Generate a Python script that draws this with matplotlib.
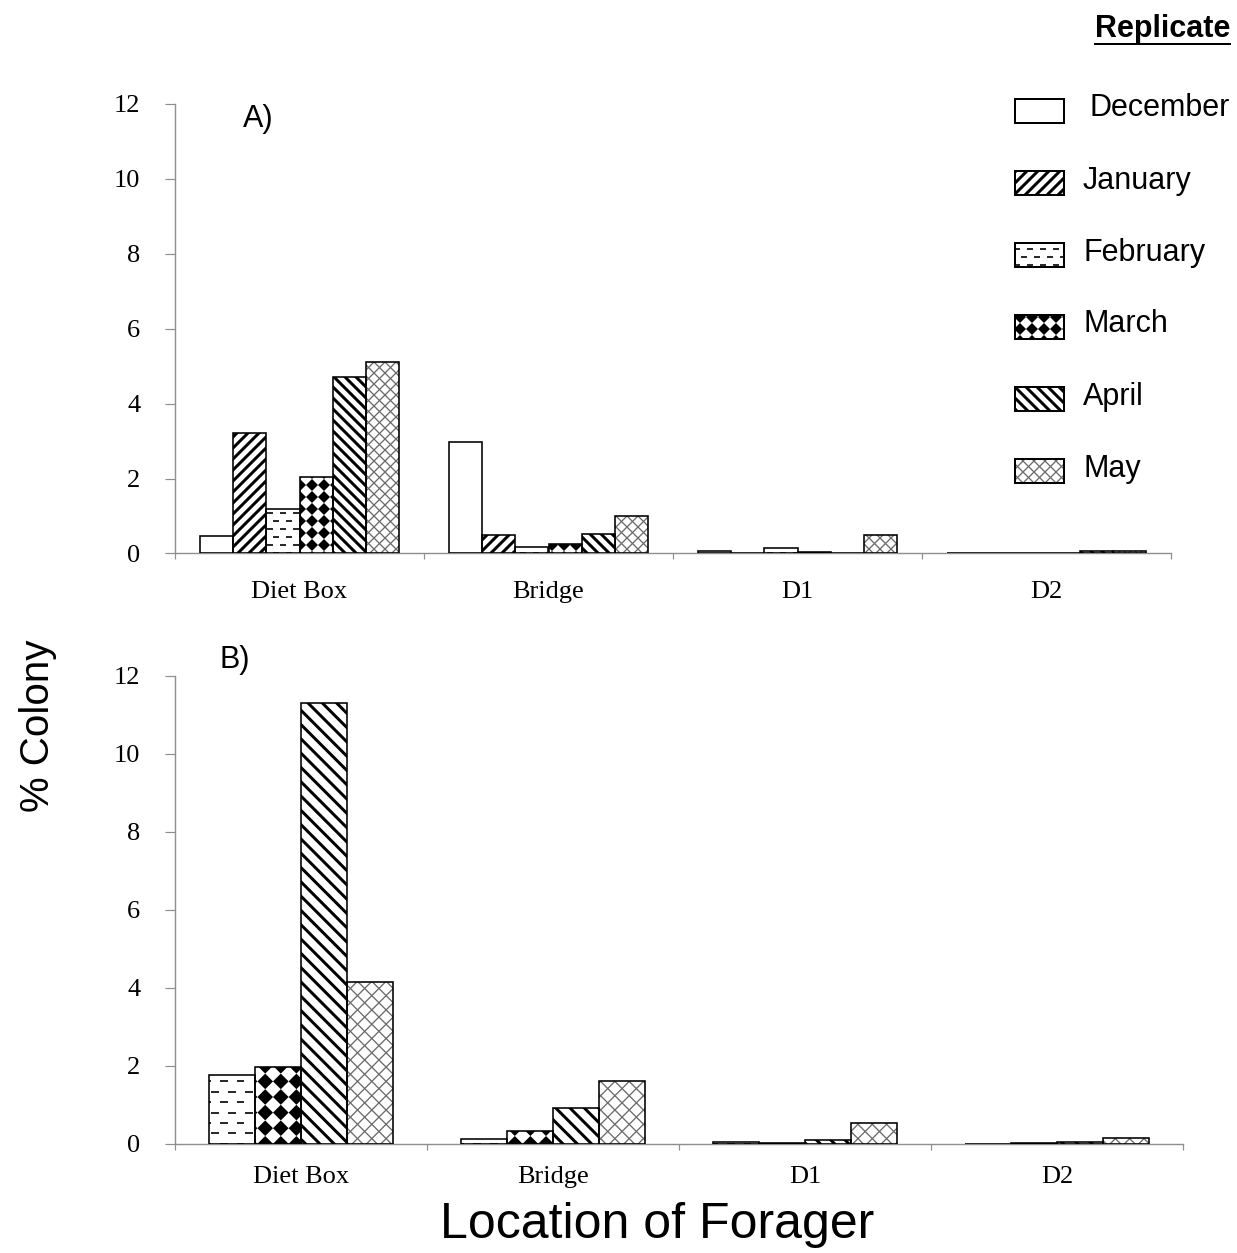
import matplotlib
matplotlib.use("Agg")
import matplotlib.pyplot as plt
import numpy as np
from matplotlib.collections import LineCollection, PolyCollection
from matplotlib.lines import Line2D
from matplotlib.patches import Rectangle
from matplotlib.transforms import IdentityTransform

# forager locations and sampling months
locations = ["Diet Box", "Bridge", "D1", "D2"]
months_a = ["December", "January", "February", "March", "April", "May"]
months_b = ["February", "March", "April", "May"]

# replicate A: % colony per location
a_december = [0.47, 2.97, 0.07, 0.01]
a_january = [3.22, 0.49, 0.02, 0.01]
a_february = [1.19, 0.17, 0.14, 0.00]
a_march = [2.04, 0.25, 0.05, 0.02]
a_april = [4.71, 0.53, 0.01, 0.06]
a_may = [5.12, 0.99, 0.49, 0.06]

# replicate B: % colony per location
b_february = [1.76, 0.11, 0.03, 0.00]
b_march = [1.97, 0.33, 0.02, 0.01]
b_april = [11.31, 0.90, 0.08, 0.03]
b_may = [4.15, 1.61, 0.52, 0.15]

y_ticks = [0, 2, 4, 6, 8, 10, 12]

W, H, DPI = 1237, 1253, 100
SANS = "Liberation Sans"
SERIF = "Liberation Serif"
AXIS_GREY = "#8f8f8f"

PATTERNS = {
    "December": "blank",
    "January": "fwd",
    "February": "dash",
    "March": "diamond",
    "April": "back",
    "May": "cross",
}


def pt(px):
    return px * 72 / DPI


def add_pattern(target, clip, kind, scale=1.0, zorder=2.5):
    """Fill a patch with a black/white Excel-like pattern drawn in pixels."""
    bb = clip.get_window_extent()
    x0, y0, x1, y1 = bb.x0, bb.y0, bb.x1, bb.y1
    if kind == "blank" or bb.height < 1:
        return
    colls = []
    step = 11 * scale
    if kind in ("fwd", "cross"):
        c = np.arange(np.floor((x0 - y1) / step) * step, x1 - y0 + step, step)
        segs = [[(y0 - 3 + ci, y0 - 3), (y1 + 3 + ci, y1 + 3)] for ci in c]
        lw, col = (pt(3.0), "black") if kind == "fwd" else (pt(1.3), "#6a6a6a")
        colls.append(LineCollection(segs, linewidths=lw, colors=col))
    if kind in ("back", "cross"):
        c = np.arange(np.floor((x0 + y0) / step) * step, x1 + y1 + step, step)
        segs = [[(ci - y0 + 3, y0 - 3), (ci - y1 - 3, y1 + 3)] for ci in c]
        lw, col = (pt(3.0), "black") if kind == "back" else (pt(1.3), "#6a6a6a")
        colls.append(LineCollection(segs, linewidths=lw, colors=col))
    if kind == "dash":
        row, period, dash = 8 * scale, 13 * scale, 6 * scale
        segs = []
        for j, yy in enumerate(np.arange(np.floor(y0 / row) * row + row / 2, y1, row)):
            shift = (j % 2) * period / 2
            for xx in np.arange(np.floor(x0 / period) * period - period + shift, x1, period):
                segs.append([(xx, yy), (xx + dash, yy)])
        colls.append(LineCollection(segs, linewidths=pt(2.0), colors="#2b2b2b"))
    if kind == "diamond":
        p = 12 * scale
        r = p * 0.5
        verts = []
        for yy in np.arange(np.floor(y0 / p) * p, y1 + p, p):
            for xx in np.arange(np.floor(x0 / p) * p, x1 + p, p):
                verts.append([(xx - r, yy), (xx, yy + r), (xx + r, yy), (xx, yy - r)])
        colls.append(PolyCollection(verts, facecolors="black", edgecolors="none"))
    for coll in colls:
        coll.set_transform(IdentityTransform())
        coll.set_zorder(zorder)
        if hasattr(target, "add_collection"):
            target.add_collection(coll, autolim=False)
        else:
            target.add_artist(coll)
        coll.set_clip_path(clip)


def axes_rect(left, top, right, bottom):
    return [left / W, 1 - bottom / H, (right - left) / W, (bottom - top) / H]


def draw_panel(ax, months, series, width, scale, label_pad):
    n_loc = len(locations)
    centers = np.arange(n_loc) + 0.5
    ax.set_xlim(0, n_loc)
    ax.set_ylim(0, 12)

    for k, (month, values) in enumerate(zip(months, series)):
        pos = centers + (k - (len(months) - 1) / 2) * width
        fills = ax.bar(pos, values, width, color="white", edgecolor="none", zorder=2)
        for rect in fills:
            add_pattern(ax, rect, PATTERNS[month], scale)
        ax.bar(pos, values, width, fill=False, edgecolor="black",
               linewidth=pt(1.6), zorder=3)

    for side in ("top", "right"):
        ax.spines[side].set_visible(False)
    for side in ("left", "bottom"):
        ax.spines[side].set_color(AXIS_GREY)
        ax.spines[side].set_linewidth(pt(1.4))

    ax.set_yticks(y_ticks)
    ax.set_yticklabels([str(t) for t in y_ticks], fontfamily=SERIF, fontsize=19)
    ax.tick_params(axis="y", direction="out", length=7, width=pt(1.2),
                   color=AXIS_GREY, pad=18)

    ax.set_xticks(centers)
    ax.set_xticklabels(locations, fontfamily=SERIF, fontsize=19)
    ax.set_xticks(np.arange(n_loc + 1), minor=True)
    ax.tick_params(axis="x", which="major", length=0, pad=label_pad)
    ax.tick_params(axis="x", which="minor", direction="out", length=4,
                   width=pt(1.2), color=AXIS_GREY)


fig = plt.figure(figsize=(W / DPI, H / DPI), dpi=DPI)

ax_a = fig.add_axes(axes_rect(175, 104, 1171, 553.5))
draw_panel(ax_a, months_a,
           [a_december, a_january, a_february, a_march, a_april, a_may],
           width=0.1337, scale=1.0, label_pad=20)

ax_b = fig.add_axes(axes_rect(175, 676, 1183, 1143.5))
draw_panel(ax_b, months_b, [b_february, b_march, b_april, b_may],
           width=0.1825, scale=1.3, label_pad=16)

# panel tags
fig.text(243 / W, 1 - 127 / H, "A)", fontfamily=SANS, fontsize=22, va="baseline")
fig.text(220 / W, 1 - 668 / H, "B)", fontfamily=SANS, fontsize=22, va="baseline")

# shared axis titles
fig.text(38 / W, 1 - 726 / H, "% Colony", fontfamily=SANS, fontsize=29,
         rotation=90, ha="center", va="center")
fig.text(657 / W, 1 - 1238 / H, "Location of Forager", fontfamily=SANS,
         fontsize=36, ha="center", va="baseline")

# legend drawn by hand so the pattern swatches match the bars
title = fig.text(1230 / W, 1 - 37 / H, "Replicate", fontfamily=SANS, fontsize=22,
                 fontweight="bold", ha="right", va="baseline")
bb = title.get_window_extent(fig.canvas.get_renderer())
fig.add_artist(Line2D([bb.x0, bb.x1], [H - 43.5, H - 43.5], color="black",
                      linewidth=pt(2.0), transform=IdentityTransform()))

for i, month in enumerate(months_a):
    cy = 110.5 + i * 72
    swatch = Rectangle((1015, H - cy - 12), 49, 24, transform=IdentityTransform(),
                       facecolor="white", edgecolor="none", zorder=2)
    fig.add_artist(swatch)
    add_pattern(fig, swatch, PATTERNS[month], scale=1.0, zorder=2.5)
    fig.add_artist(Rectangle((1015, H - cy - 12), 49, 24, transform=IdentityTransform(),
                             fill=False, edgecolor="black", linewidth=pt(2.0), zorder=3))
    tx = 1090 if month == "December" else 1083
    fig.text(tx / W, 1 - (cy + 6) / H, month, fontfamily=SANS, fontsize=22,
             va="baseline")

fig.savefig("out.png", dpi=DPI, facecolor="white")
